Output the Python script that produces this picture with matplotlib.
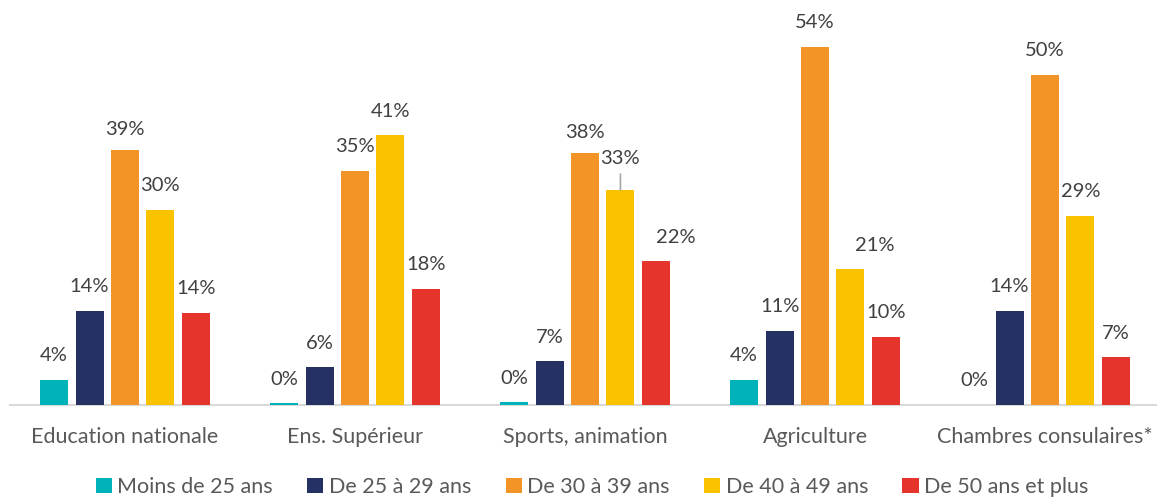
import matplotlib
matplotlib.use("Agg")
import matplotlib.pyplot as plt
from matplotlib.patches import Patch

plt.rcParams['font.family'] = ['Lato', 'DejaVu Sans']

categories = ["Education nationale", "Ens. Supérieur", "Sports, animation",
              "Agriculture", "Chambres consulaires*"]
series_names = ["Moins de 25 ans", "De 25 à 29 ans", "De 30 à 39 ans",
                "De 40 à 49 ans", "De 50 ans et plus"]
moins_25 = [3.8, 0.3, 0.45, 3.8, 0.0]
de_25_29 = [14.2, 5.7, 6.6, 11.2, 14.2]
de_30_39 = [38.5, 35.3, 38.0, 54.0, 49.8]
de_40_49 = [29.4, 40.7, 32.4, 20.5, 28.5]
de_50_plus = [13.9, 17.5, 21.7, 10.3, 7.2]
labels_25 = ["4%", "0%", "0%", "4%", "0%"]
labels_25_29 = ["14%", "6%", "7%", "11%", "14%"]
labels_30_39 = ["39%", "35%", "38%", "54%", "50%"]
labels_40_49 = ["30%", "41%", "33%", "21%", "29%"]
labels_50 = ["14%", "18%", "22%", "10%", "7%"]

series = [moins_25, de_25_29, de_30_39, de_40_49, de_50_plus]
series_labels = [labels_25, labels_25_29, labels_30_39, labels_40_49, labels_50]
colors = ["#00B2B9", "#263163", "#F29526", "#FBC200", "#E4342B"]

W, H = 1157, 499
fig = plt.figure(figsize=(W / 100, H / 100), dpi=100)
ax = fig.add_axes([10 / W, 1 - 405 / H, 1150 / W, 398 / H])
ax.set_xlim(-0.5, 4.5)
ax.set_ylim(0, 60)

pitch = 0.154
bw = 0.122
# label offsets (pixels) for special cases: (series, group): (dx, dy)
special = {(2, 0): (0, 20), (2, 2): (0, 20), (3, 2): (0, 32),
           (4, 2): (20, 24), (3, 3): (24, 24)}
for j, (vals, labs) in enumerate(zip(series, series_labels)):
    xs = [i + (j - 2) * pitch for i in range(len(categories))]
    ax.bar(xs, vals, width=bw, color=colors[j], edgecolor='none', zorder=3)
    for i, (x, v, lab) in enumerate(zip(xs, vals, labs)):
        dx, dy = special.get((j, i), (0, 24))
        ax.annotate(lab, (x, v), xytext=(dx * 0.72, dy * 0.72),
                    textcoords='offset points', ha='center', va='center',
                    fontsize=14.5, color='#404040')
        if (j, i) == (3, 2):
            ax.annotate("", (x, v), xytext=(0, 16 * 0.72), textcoords='offset points',
                        arrowprops=dict(arrowstyle='-', color='#a6a6a6', lw=1.2,
                                        shrinkA=0, shrinkB=0))

for s in ['top', 'right', 'left']:
    ax.spines[s].set_visible(False)
ax.spines['bottom'].set_color('#d9d9d9')
ax.spines['bottom'].set_linewidth(1.5)
ax.set_yticks([])
ax.set_xticks(range(len(categories)))
ax.set_xticklabels(categories, fontsize=15.5, color='#595959')
ax.tick_params(axis='x', length=0, pad=16)

handles = [Patch(facecolor=c, edgecolor='none') for c in colors]
fig.legend(handles, series_names, loc='center', ncol=5,
           bbox_to_anchor=(592 / W, 1 - 487 / H), frameon=False,
           fontsize=15.5, labelcolor='#595959', handlelength=0.75, handleheight=0.75,
           handletextpad=0.25, columnspacing=1.6)

fig.savefig("out.png", dpi=100)
